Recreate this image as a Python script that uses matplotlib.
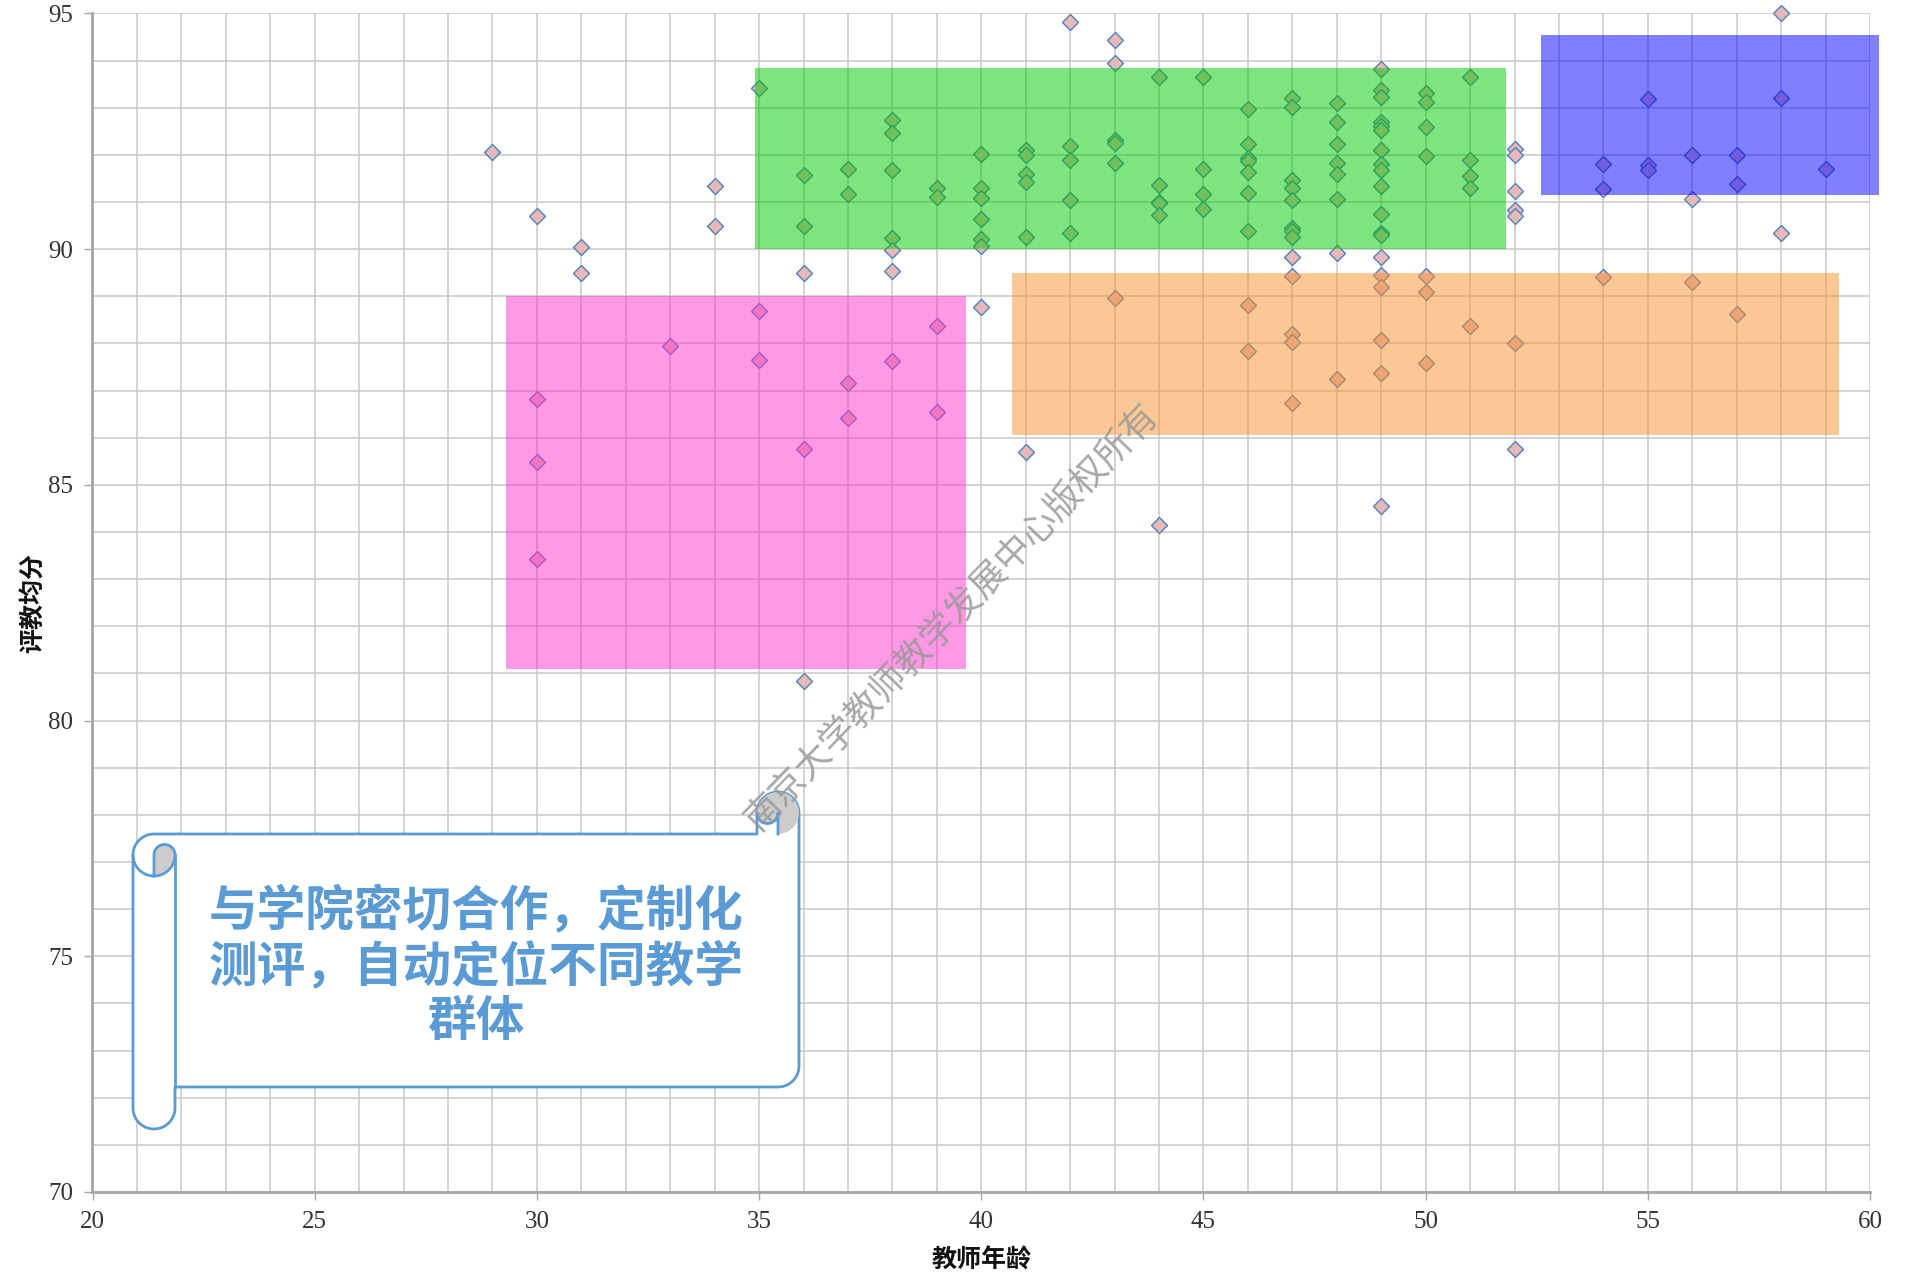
import numpy as np
import matplotlib.pyplot as plt
from matplotlib.patches import Rectangle, Polygon
from matplotlib.ticker import MultipleLocator

plt.rcParams['font.family'] = ['Noto Sans CJK SC', 'DejaVu Sans']

# teacher age / mean evaluation score, one row per age
ages = (
    [29]
    + [30, 30, 30, 30]
    + [31, 31]
    + [33]
    + [34, 34]
    + [35, 35, 35]
    + [36, 36, 36, 36, 36]
    + [37, 37, 37, 37]
    + [38, 38, 38, 38, 38, 38, 38]
    + [39, 39, 39, 39]
    + [40, 40, 40, 40, 40, 40, 40]
    + [41, 41, 41, 41, 41, 41]
    + [42, 42, 42, 42, 42]
    + [43, 43, 43, 43, 43, 43]
    + [44, 44, 44, 44, 44, 44]
    + [45, 45, 45, 45]
    + [46, 46, 46, 46, 46, 46, 46, 46, 46]
    + [47, 47, 47, 47, 47, 47, 47, 47, 47, 47, 47, 47, 47]
    + [48, 48, 48, 48, 48, 48, 48, 48]
    + [49, 49, 49, 49, 49, 49, 49, 49, 49, 49, 49, 49, 49, 49, 49, 49, 49, 49, 49]
    + [50, 50, 50, 50, 50, 50, 50]
    + [51, 51, 51, 51, 51]
    + [52, 52, 52, 52, 52, 52, 52]
    + [54, 54, 54]
    + [55, 55, 55]
    + [56, 56, 56]
    + [57, 57, 57]
    + [58, 58, 58]
    + [59]
)
scores = (
    [92.05]
    + [90.70, 86.83, 85.48, 83.42]
    + [90.04, 89.50]
    + [87.94]
    + [91.33, 90.50]
    + [93.42, 88.68, 87.64]
    + [91.57, 90.48, 89.50, 85.77, 80.83]
    + [91.70, 91.16, 87.15, 86.41]
    + [92.73, 92.46, 91.67, 90.24, 89.99, 89.53, 87.62]
    + [91.30, 91.10, 88.37, 86.55]
    + [92.01, 91.30, 91.09, 90.63, 90.22, 90.06, 88.77]
    + [92.10, 92.00, 91.59, 91.42, 90.25, 85.69]
    + [94.81, 92.18, 91.90, 91.05, 90.35]
    + [94.43, 93.94, 92.32, 92.25, 91.83, 88.97]
    + [93.65, 91.35, 91.01, 90.97, 90.72, 84.15]
    + [93.65, 91.69, 91.16, 90.85]
    + [92.98, 92.23, 91.94, 91.87, 91.63, 91.20, 90.38, 88.82, 87.83]
    + [93.20, 93.01, 91.47, 91.30, 91.04, 90.45, 90.39, 90.26, 89.84, 89.44,
       88.21, 88.02, 86.74]
    + [93.10, 92.70, 92.23, 91.82, 91.59, 91.06, 89.92, 87.24]
    + [93.83, 93.37, 93.23, 92.70, 92.62, 92.52, 92.10, 91.80, 91.67, 91.34,
       90.74, 90.35, 90.30, 89.84, 89.45, 89.20, 88.07, 87.38, 84.56]
    + [93.32, 93.13, 92.58, 91.98, 89.44, 89.08, 87.59]
    + [93.65, 91.88, 91.55, 91.30, 88.36]
    + [92.12, 92.00, 91.23, 90.84, 90.70, 88.01, 85.76]
    + [91.80, 91.27, 89.40]
    + [93.18, 91.79, 91.68]
    + [91.99, 91.07, 89.30]
    + [92.00, 91.39, 88.62]
    + [95.00, 93.21, 90.34]
    + [91.70]
)

# highlighted teacher groups (age range, score range)
group_age_lo = [29.3, 34.9, 40.7, 52.6]
group_age_hi = [39.65, 51.8, 59.3, 60.2]
group_score_lo = [81.1, 90.0, 86.05, 91.15]
group_score_hi = [89.0, 93.85, 89.5, 94.55]
group_colors = ['#ff33cc', '#00c800', '#f9932d', '#0000ff']

note_text = '与学院密切合作，定制化\n测评，自动定位不同教学\n群体'
watermark = '南京大学教师教学发展中心版权所有'

W, H = 1908, 1283
fig = plt.figure(figsize=(W / 100, H / 100), dpi=100)
ax = fig.add_axes([92.5 / W, (H - 1192) / H, (1870 - 92.5) / W, (1192 - 13.4) / H])

ax.plot(ages, scores, linestyle='none', marker='D', markersize=8,
        markerfacecolor='#e6b9b8', markeredgecolor='#4f81bd',
        markeredgewidth=1.0, clip_on=False, zorder=3)

for x0, x1, y0, y1, c in zip(group_age_lo, group_age_hi, group_score_lo,
                             group_score_hi, group_colors):
    ax.add_patch(Rectangle((x0, y0), x1 - x0, y1 - y0, facecolor=c,
                           edgecolor='none', alpha=0.5, clip_on=False, zorder=4))

ax.set_xlim(20, 60)
ax.set_ylim(70, 95)
ax.xaxis.set_major_locator(MultipleLocator(5))
ax.xaxis.set_minor_locator(MultipleLocator(1))
ax.yaxis.set_major_locator(MultipleLocator(5))
ax.yaxis.set_minor_locator(MultipleLocator(1))
ax.grid(True, which='both', color='#c8c8c8', linewidth=1.1)
ax.set_axisbelow(True)
for s in ['top', 'right']:
    ax.spines[s].set_visible(False)
for s in ['left', 'bottom']:
    ax.spines[s].set_color('#a6a6a6')
    ax.spines[s].set_linewidth(2)
ax.tick_params(which='major', length=6, width=1, color='#a6a6a6',
               labelsize=18, labelcolor='#333333', pad=8)
ax.tick_params(which='minor', length=0)
for lab in ax.get_xticklabels() + ax.get_yticklabels():
    lab.set_family('Liberation Serif')

ax.set_xlabel('教师年龄', fontsize=18, fontweight='bold', color='#111111')
ax.set_ylabel('评教均分', fontsize=18, fontweight='bold', color='#111111')
ax.xaxis.set_label_coords(0.5, (1192 - 1261) / (1192 - 13.4))
ax.xaxis.label.set_va('center')
ax.yaxis.set_label_coords((33 - 92.5) / (1870 - 92.5), 0.5)
ax.yaxis.label.set_va('center')

# overlay in pixel coordinates for the scroll callout and watermark
ov = fig.add_axes([0, 0, 1, 1])
ov.set_xlim(0, W)
ov.set_ylim(H, 0)
ov.axis('off')
ov.set_zorder(5)
ov.patch.set_alpha(0)


def arc(cx, cy, r, a0, a1, n=40):
    a = np.radians(np.linspace(a0, a1, n))
    return np.column_stack([cx + r * np.cos(a), cy + r * np.sin(a)])


l, r, t, b, ch = 133, 799, 792, 1129, 42
ch2, ch4 = ch / 2, ch / 4
x3, x4 = r - ch, r - ch2
y3, y4 = t + ch + ch2, t + 2 * ch
y6, y7 = b - ch, b - ch2
y5 = y6 - ch2
blue = '#5b9bd5'
grey = '#cccccc'

outline = np.vstack([
    [[l, y3]],
    arc(l + ch2, y3, ch2, 180, 270),
    [[x3, t + ch], [x3, t + ch2]],
    arc(x4, t + ch2, ch2, 180, 360),
    [[r, y5]],
    arc(r - ch2, y5, ch2, 0, 90),
    [[l + ch, y6], [l + ch, y7]],
    arc(l + ch2, y7, ch2, 0, 180),
])
ov.add_patch(Polygon(outline, closed=True, facecolor='white', edgecolor=blue,
                     linewidth=2, joinstyle='round'))

curl_tr = np.vstack([
    arc(x4, t + ch2, ch2, 180, 450),
    [[x4, t + ch2]],
    arc(x4 - ch4, t + ch2, ch4, 0, 180),
])
ov.add_patch(Polygon(curl_tr, closed=True, facecolor=grey, edgecolor='none'))
tr_line = np.vstack([[[x4, t + ch], [x4, t + ch2]], arc(x4 - ch4, t + ch2, ch4, 0, 180)])
ov.plot(tr_line[:, 0], tr_line[:, 1], color=blue, linewidth=2)

curl_tl = np.vstack([
    [[l + ch2, y4], [l + ch2, y3]],
    arc(l + ch2 + ch4, y3, ch4, 180, 360),
    arc(l + ch2, y3, ch2, 0, 90),
])
ov.add_patch(Polygon(curl_tl, closed=True, facecolor=grey, edgecolor='none'))
tl_line = np.vstack([
    [[l + ch2, y4], [l + ch2, y3]],
    arc(l + ch2 + ch4, y3, ch4, 180, 360),
    arc(l + ch2, y3, ch2, 0, 180),
])
ov.plot(tl_line[:, 0], tl_line[:, 1], color=blue, linewidth=2)
ov.plot([l + ch, l + ch], [y3, y6], color=blue, linewidth=2)

ov.text(476, 967, note_text, ha='center', va='center', fontsize=35,
        fontweight='bold', color=blue, linespacing=1.15)

ov.text(952, 617, watermark, ha='center', va='center', rotation=46,
        rotation_mode='anchor', fontsize=26, color='#999999', alpha=0.85,
        zorder=10)

fig.savefig('out.png', dpi=100)
